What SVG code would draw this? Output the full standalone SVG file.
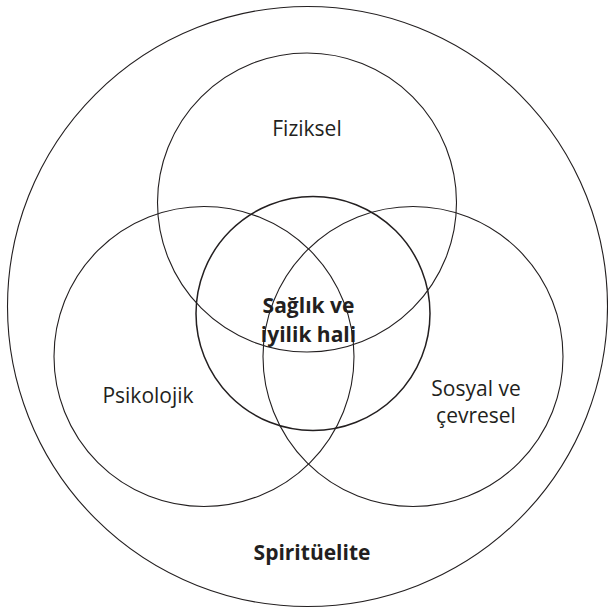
<svg xmlns="http://www.w3.org/2000/svg" width="608" height="615" viewBox="0 0 608 615">
  <style>
    .ring { fill: none; stroke: #231f20; stroke-width: 1.1; }
    .core { fill: none; stroke: #231f20; stroke-width: 1.5; }
    .lbl { font-family: "Open Sans", "Noto Sans", sans-serif; font-size: 21px; fill: #231f20; text-anchor: middle; }
    .bold { font-weight: bold; font-size: 21px; }
  </style>
  <rect width="608" height="615" fill="#ffffff"/>

  <g id="spirituelite">
    <circle class="ring" cx="307.5" cy="306.5" r="300"/>
    <text class="lbl bold" x="312" y="560">Spiritüelite</text>
  </g>

  <g id="fiziksel">
    <circle class="ring" cx="307" cy="202.5" r="149.5"/>
    <text class="lbl" x="307" y="136">Fiziksel</text>
  </g>

  <g id="psikolojik">
    <circle class="ring" cx="204" cy="356.5" r="150"/>
    <text class="lbl" x="148" y="403">Psikolojik</text>
  </g>

  <g id="sosyal">
    <circle class="ring" cx="413" cy="356.5" r="150"/>
    <text class="lbl" x="476" y="396">Sosyal ve</text>
    <text class="lbl" x="476" y="423">çevresel</text>
  </g>

  <g id="saglik">
    <circle class="core" cx="313" cy="313.5" r="117"/>
    <text class="lbl bold" x="308.5" y="313">Sağlık ve</text>
    <text class="lbl bold" x="308.5" y="342">iyilik hali</text>
  </g>
</svg>
